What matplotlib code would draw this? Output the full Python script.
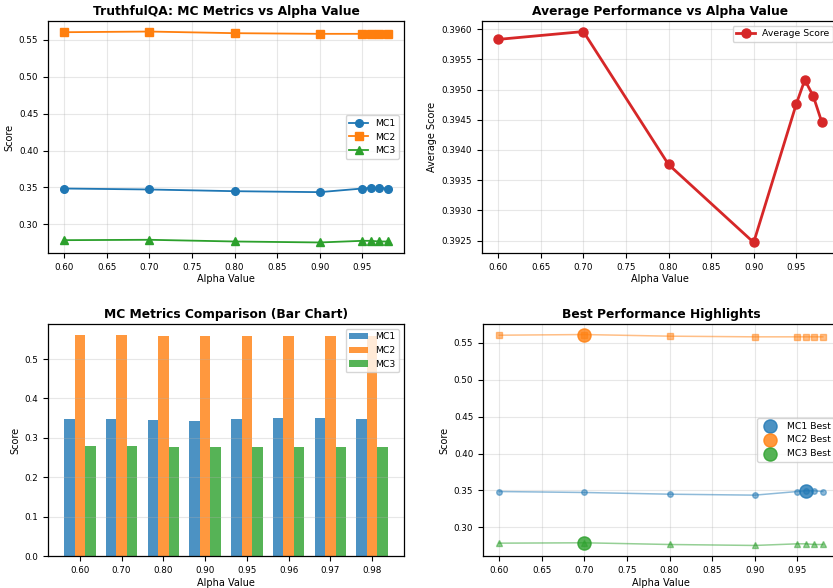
import matplotlib.pyplot as plt
import numpy as np

alphas = [0.60, 0.70, 0.80, 0.90, 0.95, 0.96, 0.97, 0.98]
alpha_labels = ["0.60", "0.70", "0.80", "0.90", "0.95", "0.96", "0.97", "0.98"]
mc1 = [0.3486, 0.3473, 0.3450, 0.3437, 0.3486, 0.3496, 0.3495, 0.3486]
mc2 = [0.5599, 0.5608, 0.5586, 0.5577, 0.5577, 0.5577, 0.5577, 0.5577]
mc3 = [0.2788, 0.2793, 0.2770, 0.2757, 0.2779, 0.2779, 0.2770, 0.2770]
avg_score = [0.39583, 0.39596, 0.39376, 0.39247, 0.39476, 0.39516, 0.39489, 0.39446]

plt.rcParams.update({
    "font.size": 7,
    "axes.titlesize": 8.8,
    "axes.titleweight": "bold",
    "axes.labelsize": 7.0,
    "xtick.labelsize": 6.3,
    "ytick.labelsize": 6.3,
    "legend.fontsize": 6.7,
    "axes.linewidth": 0.9,
})

fig = plt.figure(figsize=(8.33, 5.88), dpi=100)
W, H = 833, 588


def place(x0, y0, x1, y1):
    return fig.add_axes([x0 / W, 1 - y1 / H, (x1 - x0) / W, (y1 - y0) / H])


ax1 = place(48, 21, 404, 253)
ax2 = place(482, 21, 838, 253)
ax3 = place(48, 324, 404, 556)
ax4 = place(483, 324, 839, 556)

# MC metrics as lines
ax1.plot(alphas, mc1, marker="o", lw=1.3, ms=5.5, label="MC1")
ax1.plot(alphas, mc2, marker="s", lw=1.3, ms=5.5, label="MC2")
ax1.plot(alphas, mc3, marker="^", lw=1.3, ms=5.5, label="MC3")
ax1.set_title("TruthfulQA: MC Metrics vs Alpha Value", pad=4)
ax1.set_xlabel("Alpha Value", labelpad=2)
ax1.set_ylabel("Score", labelpad=3)
ax1.legend(loc="center right")
ax1.grid(True, alpha=0.3)

# average of the three metrics
ax2.plot(alphas, avg_score, marker="o", color="#d62728", lw=2.0, ms=6.5,
         label="Average Score")
ax2.set_title("Average Performance vs Alpha Value", pad=4)
ax2.set_xlabel("Alpha Value", labelpad=2)
ax2.set_ylabel("Average Score", labelpad=3)
ax2.legend(loc="upper right")
ax2.grid(True, alpha=0.3)

# grouped bars
x = np.arange(len(alphas))
w = 0.25
ax3.bar(x - w, mc1, w, label="MC1", alpha=0.8)
ax3.bar(x, mc2, w, label="MC2", alpha=0.8)
ax3.bar(x + w, mc3, w, label="MC3", alpha=0.8)
ax3.set_xticks(x)
ax3.set_xticklabels(alpha_labels)
ax3.set_title("MC Metrics Comparison (Bar Chart)", pad=4)
ax3.set_xlabel("Alpha Value", labelpad=2)
ax3.set_ylabel("Score", labelpad=3)
ax3.legend(loc="upper right")
ax3.grid(True, axis="y", alpha=0.3)

# faded lines with the best point of each metric highlighted
for vals, mk, c in [(mc1, "o", "C0"), (mc2, "s", "C1"), (mc3, "^", "C2")]:
    ax4.plot(alphas, vals, marker=mk, color=c, alpha=0.5, lw=1.1, ms=4.0)
for i, (vals, c) in enumerate([(mc1, "C0"), (mc2, "C1"), (mc3, "C2")]):
    b = int(np.argmax(vals))
    ax4.scatter(alphas[b], vals[b], s=90, color=c, alpha=0.8, zorder=5,
                label=f"MC{i + 1} Best")
ax4.set_title("Best Performance Highlights", pad=4)
ax4.set_xlabel("Alpha Value", labelpad=2)
ax4.set_ylabel("Score", labelpad=3)
ax4.legend(loc="center right")
ax4.grid(True, alpha=0.3)

fig.savefig("out.png", dpi=100)
